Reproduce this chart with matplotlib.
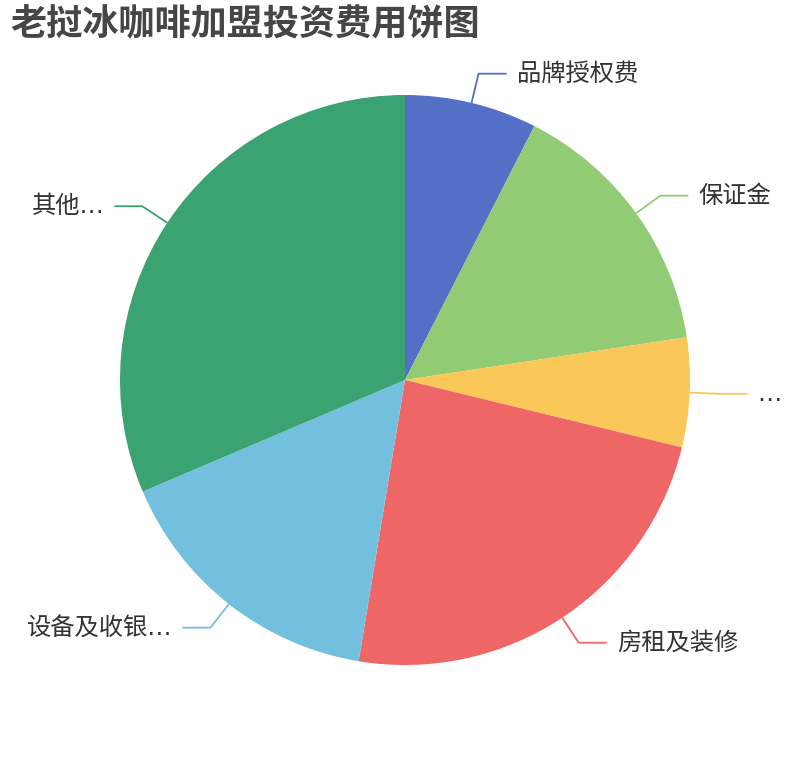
import numpy as np
import matplotlib.pyplot as plt

plt.rcParams['font.family'] = ['Noto Sans CJK SC', 'DejaVu Sans']

# data (shares)
names = ['品牌授权费', '保证金', '…', '房租及装修', '设备及收银…', '其他…']
values = [7.5, 15.1, 6.2, 23.8, 16.0, 31.4]
colors = ['#5470c6', '#91cc75', '#fac858', '#ee6666', '#73c0de', '#3ba272']

W, H = 810, 760
cx, cy, r = 405, H - 380, 285

fig = plt.figure(figsize=(W / 100, H / 100), dpi=100)
ax = fig.add_axes([0, 0, 1, 1])

wedges, _ = ax.pie(values, colors=colors, startangle=90, counterclock=False,
                   center=(cx, cy), radius=r, frame=True)
ax.set_xlim(0, W)
ax.set_ylim(0, H)
ax.set_aspect('equal')
ax.axis('off')

for w, name, col in zip(wedges, names, colors):
    mid = np.deg2rad((w.theta1 + w.theta2) / 2)
    ex, ey = cx + r * np.cos(mid), cy + r * np.sin(mid)
    bx, by = cx + (r + 30) * np.cos(mid), cy + (r + 30) * np.sin(mid)
    side = 1 if np.cos(mid) >= 0 else -1
    hx = bx + side * 28
    ax.plot([ex, bx, hx], [ey, by, by], color=col, lw=1.3,
            solid_capstyle='butt')
    # DejaVu first so the ellipsis sits on the baseline
    ax.text(hx + side * 10, by, name, ha='left' if side > 0 else 'right',
            va='center', fontsize=17.5, color='#333333',
            family=['DejaVu Sans', 'Noto Sans CJK SC'])

fig.text(10 / W, 1 - 25 / H, '老挝冰咖啡加盟投资费用饼图', fontsize=26,
         fontweight='bold', color='#464646', ha='left', va='center')

fig.savefig('out.png', dpi=100)
